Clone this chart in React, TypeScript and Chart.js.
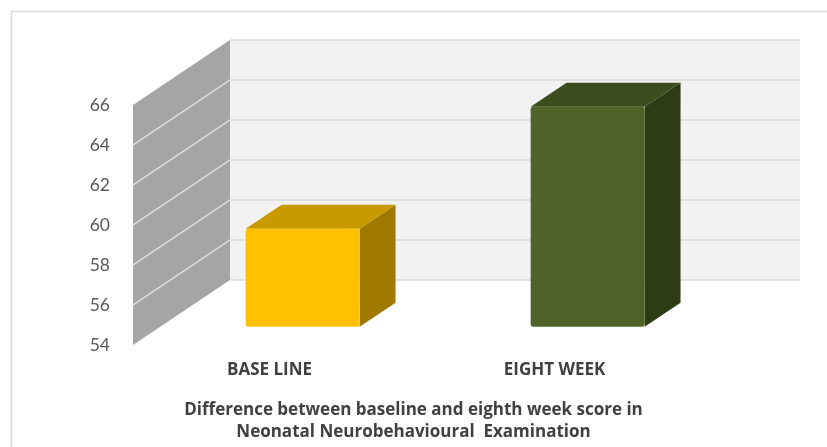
import React, { useEffect, useRef } from "react";
import { Chart, registerables } from "chart.js";

Chart.register(...registerables);

// ---- data ----
const categories: string[] = ["BASE LINE", "EIGHT WEEK"];
const scores: number[] = [58.9, 65.0];
const yMin = 54;
const yMax = 66;
const yStep = 2;
const titleLines: string[] = [
  "Difference between baseline and eighth week score in",
  "Neonatal Neurobehavioural  Examination",
];

// ---- styles ----
const frontColors = ["#FFC000", "#4F6228"];
const topColors = ["#C99A00", "#3D4D1E"];
const sideColors = ["#A07A00", "#2E3C16"];
const WALL_DX = 97;
const WALL_DY = -65;
const BAR_FRONT = 0.28;
const BAR_DEPTH = 0.37;
const FONT = "Lato, 'Open Sans', sans-serif";
const FONT_TXT = "'Open Sans', Lato, sans-serif";

const threeD = {
  id: "threeD",
  beforeDraw(chart: any) {
    const { ctx, width, height } = chart;
    ctx.save();
    ctx.fillStyle = "#ffffff";
    ctx.fillRect(0, 0, width, height);
    ctx.strokeStyle = "#d9d9d9";
    ctx.lineWidth = 1.5;
    ctx.beginPath();
    ctx.moveTo(11.5, height);
    ctx.lineTo(11.5, 11.5);
    ctx.lineTo(width, 11.5);
    ctx.stroke();
    ctx.restore();
  },
  beforeDatasetsDraw(chart: any) {
    const { ctx, chartArea } = chart;
    const y = chart.scales.y;
    const L = chartArea.left;
    const R = chartArea.right;
    const yTop = y.getPixelForValue(y.max);
    const yBot = y.getPixelForValue(y.min);
    ctx.save();
    // back wall
    ctx.fillStyle = "#f2f2f2";
    ctx.fillRect(L + WALL_DX, yTop + WALL_DY, R - L, yBot - yTop);
    ctx.strokeStyle = "#d9d9d9";
    ctx.lineWidth = 1.6;
    y.ticks.forEach((t: any) => {
      const py = y.getPixelForValue(t.value) + WALL_DY;
      ctx.beginPath();
      ctx.moveTo(L + WALL_DX, py);
      ctx.lineTo(R + WALL_DX, py);
      ctx.stroke();
    });
    // side wall
    ctx.fillStyle = "#a5a5a5";
    ctx.beginPath();
    ctx.moveTo(L, yBot);
    ctx.lineTo(L, yTop);
    ctx.lineTo(L + WALL_DX, yTop + WALL_DY);
    ctx.lineTo(L + WALL_DX, yBot + WALL_DY);
    ctx.closePath();
    ctx.fill();
    ctx.strokeStyle = "#e6e6e6";
    ctx.lineWidth = 1.4;
    y.ticks.forEach((t: any) => {
      if (t.value <= y.min || t.value >= y.max) return;
      const py = y.getPixelForValue(t.value);
      ctx.beginPath();
      ctx.moveTo(L, py);
      ctx.lineTo(L + WALL_DX, py + WALL_DY);
      ctx.stroke();
    });
    ctx.restore();
  },
  afterDatasetsDraw(chart: any) {
    const { ctx } = chart;
    const y = chart.scales.y;
    const meta = chart.getDatasetMeta(0);
    const ox = BAR_FRONT * WALL_DX;
    const oy = BAR_FRONT * WALL_DY;
    const bx = BAR_DEPTH * WALL_DX;
    const by = BAR_DEPTH * WALL_DY;
    const basePx = y.getPixelForValue(y.min);
    ctx.save();
    meta.data.forEach((el: any, i: number) => {
      const p = el.getProps(["x", "y", "width"], true);
      const x0 = p.x - p.width / 2 + ox;
      const x1 = p.x + p.width / 2 + ox;
      const yT = p.y + oy;
      const yB = basePx + oy;
      // right face
      ctx.fillStyle = sideColors[i];
      ctx.beginPath();
      ctx.moveTo(x1, yB);
      ctx.lineTo(x1, yT);
      ctx.lineTo(x1 + bx, yT + by);
      ctx.lineTo(x1 + bx, yB + by);
      ctx.closePath();
      ctx.fill();
      // top face
      ctx.fillStyle = topColors[i];
      ctx.beginPath();
      ctx.moveTo(x0, yT);
      ctx.lineTo(x1, yT);
      ctx.lineTo(x1 + bx, yT + by);
      ctx.lineTo(x0 + bx, yT + by);
      ctx.closePath();
      ctx.fill();
      // front face
      ctx.fillStyle = frontColors[i];
      ctx.beginPath();
      if ((ctx as any).roundRect) {
        (ctx as any).roundRect(x0, yT, x1 - x0, yB - yT, 3);
      } else {
        ctx.rect(x0, yT, x1 - x0, yB - yT);
      }
      ctx.fill();
    });
    ctx.restore();
  },
};

export default function App() {
  const ref = useRef<HTMLCanvasElement | null>(null);
  useEffect(() => {
    if (!ref.current) return;
    const chart = new Chart(ref.current, {
      type: "bar",
      data: {
        labels: categories,
        datasets: [
          {
            label: "Score",
            data: scores,
            base: yMin,
            backgroundColor: "rgba(0,0,0,0)",
            borderWidth: 0,
            barPercentage: 0.4,
            categoryPercentage: 1,
            yAxisID: "y",
          },
        ],
      },
      options: {
        responsive: false,
        animation: false,
        devicePixelRatio: 1,
        layout: { padding: { top: 105, left: 0, right: 0, bottom: 0 } },
        plugins: {
          legend: { display: false },
          tooltip: { enabled: false },
          title: {
            display: true,
            position: "bottom",
            text: titleLines,
            color: "#404040",
            font: { family: FONT_TXT, size: 17, weight: "bold", lineHeight: 22 / 17 },
            padding: { top: 0, bottom: 4 },
          },
        },
        scales: {
          x: {
            grid: { display: false, drawTicks: false },
            border: { display: false },
            ticks: {
              color: "#404040",
              font: { family: FONT_TXT, size: 17, weight: "bold" },
              padding: 15,
              labelOffset: -6,
            },
            afterFit: (s: any) => {
              s.height = 54;
            },
          },
          y: {
            min: yMin,
            max: yMax,
            grid: { display: false, drawTicks: false },
            border: { display: false },
            ticks: {
              stepSize: yStep,
              color: "#595959",
              font: { family: FONT, size: 17.5 },
              padding: 23,
            },
            afterFit: (s: any) => {
              s.width = 133;
            },
          },
          y2: {
            type: "linear",
            position: "right",
            display: true,
            grid: { display: false, drawTicks: false },
            border: { display: false },
            ticks: { display: false },
            afterFit: (s: any) => {
              s.width = 124;
            },
          },
        },
      },
      plugins: [threeD],
    } as any);
    return () => chart.destroy();
  }, []);
  return (
    <div style={{ position: "fixed", left: 0, top: 0, width: 827, height: 447 }}>
      <canvas ref={ref} width={827} height={447} />
    </div>
  );
}
